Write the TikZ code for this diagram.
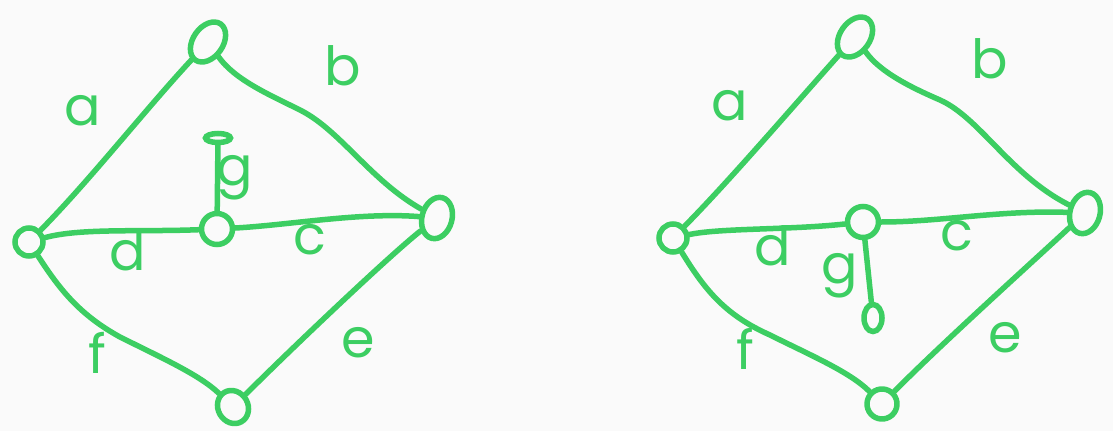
\documentclass[tikz,border=0pt]{standalone}
\usepackage{fontspec}
\setmainfont{Poppins}
\usetikzlibrary{shapes.geometric}
\definecolor{ink}{RGB}{60,206,98}
\definecolor{paper}{RGB}{250,250,250}

\begin{document}
\begin{tikzpicture}[x=1pt,y=-1pt,
  edge/.style={draw=ink,line width=5.5pt,line cap=round,line join=round},
  vtx/.style={draw=ink,line width=5.5pt,circle,inner sep=0pt,minimum size=28pt},
  oval/.style={draw=ink,line width=5.5pt,ellipse,inner sep=0pt},
  lbl/.style={text=ink,font=\fontsize{54}{54}\selectfont,inner sep=0pt}]

\fill[paper] (0,0) rectangle (1113,431);

% ---------- first graph: pendant vertex above the centre ----------
\node[vtx] (L1) at (29,242) {};
\node[oval,minimum width=44pt,minimum height=30pt,rotate=55] (T1) at (208,42) {};
\node[vtx,minimum size=31pt] (C1) at (217,229) {};
\node[oval,minimum width=30pt,minimum height=42pt,rotate=-15] (R1) at (437,218) {};
\node[oval,minimum width=30pt,minimum height=34pt,rotate=30] (B1) at (233,407) {};
\node[oval,minimum width=25pt,minimum height=9pt] (P1) at (218,138) {};

\draw[edge] (L1) .. controls (90,180) and (145,110) .. (T1);
\draw[edge] (T1) .. controls (235,80) and (270,95) .. (300,110)
                 .. controls (340,130) and (370,180) .. (R1);
\draw[edge] (C1) .. controls (290,225) and (360,212) .. (R1);
\draw[edge] (L1) .. controls (80,228) and (140,232) .. (C1);
\draw[edge] (R1) .. controls (390,255) and (290,350) .. (B1);
\draw[edge] (L1) .. controls (60,290) and (80,315) .. (120,337)
                 .. controls (160,357) and (200,375) .. (B1);
\draw[edge] (C1) -- (P1);

\node[lbl] (la1) at (83,111) {a};
\node[lbl] (lb1) at (343,66) {b};
\node[lbl] (lg1) at (235,178) {g};
\node[lbl] (ld1) at (128,251) {d};
\node[lbl] (lc1) at (310,240) {c};
\node[lbl] (lf1) at (97,353) {f};
\node[lbl] (le1) at (358,343) {e};

% ---------- second graph: pendant vertex below the centre ----------
\node[vtx] (L2) at (673,238) {};
\node[oval,minimum width=44pt,minimum height=30pt,rotate=55] (T2) at (855,37) {};
\node[vtx,minimum size=31pt] (C2) at (863,222) {};
\node[oval,minimum width=30pt,minimum height=42pt,rotate=-15] (R2) at (1085,213) {};
\node[oval,minimum width=30pt,minimum height=30pt,rotate=30] (B2) at (882,404) {};
\node[oval,minimum width=18pt,minimum height=27pt] (P2) at (873,318) {};

\draw[edge] (L2) .. controls (730,180) and (790,110) .. (T2);
\draw[edge] (T2) .. controls (880,72) and (910,87) .. (940,100)
                 .. controls (980,118) and (1010,175) .. (R2);
\draw[edge] (C2) .. controls (940,222) and (1000,210) .. (R2);
\draw[edge] (L2) .. controls (720,228) and (790,230) .. (C2);
\draw[edge] (R2) .. controls (1040,255) and (940,345) .. (B2);
\draw[edge] (L2) .. controls (705,290) and (725,315) .. (770,335)
                 .. controls (810,355) and (850,372) .. (B2);
\draw[edge] (C2) -- (P2);

\node[lbl] (la2) at (730,106) {a};
\node[lbl] (lb2) at (990,59) {b};
\node[lbl] (lg2) at (840,276) {g};
\node[lbl] (ld2) at (773,246) {d};
\node[lbl] (lc2) at (957,236) {c};
\node[lbl] (lf2) at (745,349) {f};
\node[lbl] (le2) at (1005,338) {e};
\end{tikzpicture}
\end{document}
